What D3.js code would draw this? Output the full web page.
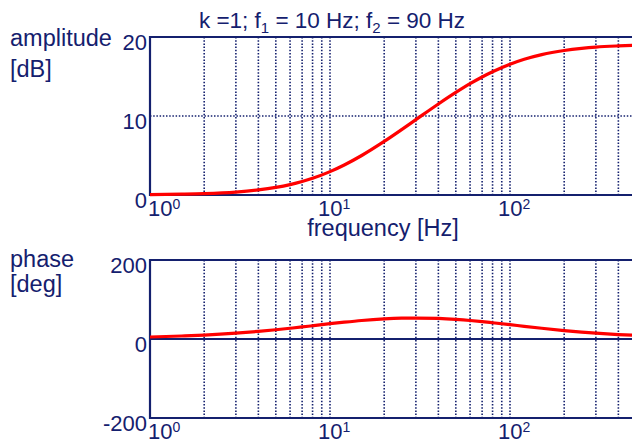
<!DOCTYPE html>
<html><head><meta charset="utf-8">
<script src="https://cdn.jsdelivr.net/npm/d3@7"></script>
<style>body{margin:0;background:#fff}svg{display:block;font-family:"Liberation Sans",Arial,sans-serif}</style>
</head><body><svg id="c" width="632" height="447"></svg>
<script>
const freqs      = [1,1.5,2,3,4,5,6,7,8,10,12,15,20,25,30,40,50,60,70,80,100,120,150,200,250,300,400,500,700,1000];
const amplitudeDb= [0.04,0.10,0.17,0.37,0.64,0.96,1.32,1.71,2.11,2.96,3.80,5.00,6.78,8.28,9.54,11.52,12.98,14.09,14.94,15.60,16.55,17.18,17.77,18.29,18.56,18.72,18.87,18.95,19.02,19.05];
const phaseDeg   = [5.1,7.6,10.0,14.8,19.3,23.4,27.2,30.5,33.6,38.7,42.6,46.9,50.9,52.7,53.1,52.0,49.6,46.9,44.0,41.2,36.3,32.1,27.2,21.4,17.5,14.8,11.3,9.1,6.5,4.6];
const xTickExp   = [0,1,2];
const ampTicks   = [0,10,20];
const phaseTicks = [-200,0,200];
const gridFreqs  = [2,3,4,5,6,7,8,9,10,20,30,40,50,60,70,80,90,100,200,300,400,500,600,700,800,900];
const titleParts = ["k =1; f","1"," = 10 Hz; f","2"," = 90 Hz"];

const navy = "#14206e";
const svg = d3.select("#c");
const x = d3.scaleLog().domain([1,1000]).range([150,690]);
const yA = d3.scaleLinear().domain([0,20]).range([195,37]);
const yP = d3.scaleLinear().domain([-200,200]).range([418,260]);
const FS = 22, LFS = 23.5;

function panel(y, yTicks, vals, gridY, zeroSolid) {
  const g = svg.append("g");
  const [yb, yt] = y.range();
  g.selectAll(".vg").data(gridFreqs).join("line")
    .attr("x1", d=>x(d)).attr("x2", d=>x(d)).attr("y1", yt).attr("y2", yb)
    .attr("stroke", navy).attr("stroke-width", 1.6).attr("stroke-dasharray","1.5,1.7");
  g.selectAll(".hg").data(gridY).join("line")
    .attr("x1", 150).attr("x2", 632).attr("y1", d=>y(d)).attr("y2", d=>y(d))
    .attr("stroke", navy).attr("stroke-width", zeroSolid?1.8:1.6)
    .attr("stroke-dasharray", zeroSolid?null:"1.5,1.7");
  g.append("line").attr("x1",150).attr("x2",632).attr("y1",yt).attr("y2",yt).attr("stroke",navy).attr("stroke-width",2.2);
  g.append("line").attr("x1",150).attr("x2",632).attr("y1",yb).attr("y2",yb).attr("stroke",navy).attr("stroke-width",2.2);
  g.append("line").attr("x1",150).attr("x2",150).attr("y1",yt-1).attr("y2",yb+1).attr("stroke",navy).attr("stroke-width",2.2);
  const line = d3.line().x((d,i)=>x(freqs[i])).y(d=>y(d)).curve(d3.curveMonotoneX);
  g.append("path").attr("d", line(vals)).attr("fill","none").attr("stroke","#ff0000").attr("stroke-width",3.2);
  g.selectAll(".yt").data(yTicks).join("text")
    .attr("x", 147).attr("y", d=>y(d)+13).attr("text-anchor","end")
    .attr("font-size", FS).attr("fill", navy).text(d=>d);
  xTickExp.forEach((e,i)=>{
    const t = g.append("text").attr("y", yb+21).attr("font-size", FS).attr("fill", navy);
    if (i===0) t.attr("x", 148); else t.attr("x", x(Math.pow(10,e))-12);
    t.append("tspan").text("10");
    t.append("tspan").attr("font-size", 14).attr("dy", -7).text(e);
  });
}
panel(yA, ampTicks, amplitudeDb, [10], false);
panel(yP, phaseTicks, phaseDeg, [0], true);

const tt = svg.append("text").attr("x", 332).attr("y", 28).attr("text-anchor","middle").attr("font-size", 22.5).attr("fill", navy);
titleParts.forEach((p,i)=>{
  const s = tt.append("tspan").text(p);
  if (i%2===1) s.attr("font-size",15).attr("dy",5);
  else if (i>0) s.attr("dy",-5);
});
const lab = (t,xx,yy,anchor)=>svg.append("text").attr("x",xx).attr("y",yy).attr("text-anchor",anchor||"start").attr("font-size",LFS).attr("fill",navy).text(t);
lab("amplitude",10,46);
lab("[dB]",10,77);
lab("phase",10,267);
lab("[deg]",10,292);
lab("frequency [Hz]",383,236,"middle");
</script></body></html>
